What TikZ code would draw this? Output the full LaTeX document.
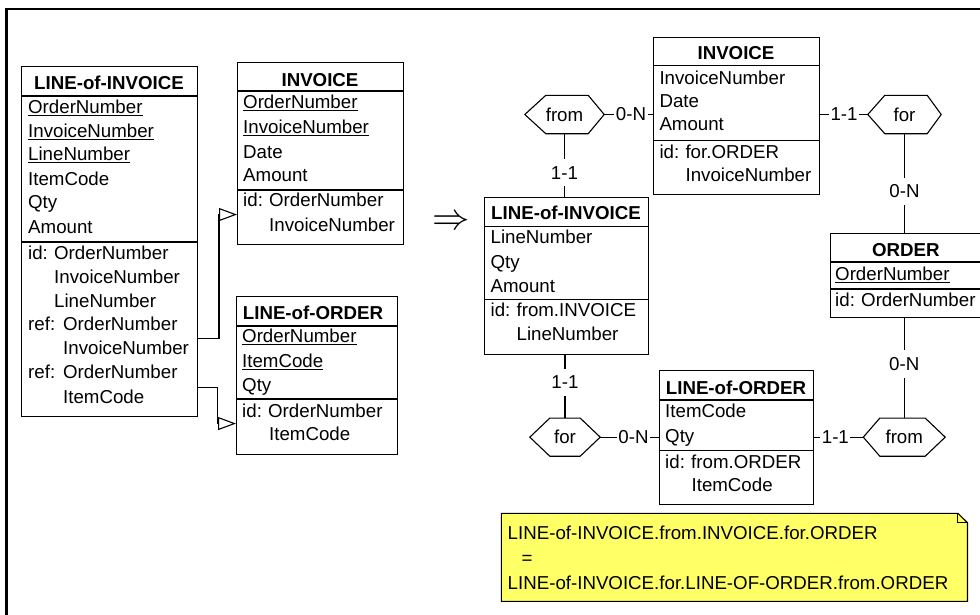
\documentclass[tikz,border=0pt]{standalone}
\usepackage{fontspec}
\setmainfont{Liberation Sans}
\usetikzlibrary{arrows.meta}
\definecolor{noteyellow}{RGB}{255,255,102}
\newcommand\fsz{\fontsize{18.7pt}{22pt}\selectfont}
% underlined key attribute
\newcommand\uln[1]{\setbox0=\hbox{#1}\rlap{\rule[-2.3pt]{\wd0}{1pt}}\box0}
\newcommand\idp{\makebox[26pt][l]{id:}}
\newcommand\refp{\makebox[35pt][l]{ref:}}
% entity box: name, x, y, width, height, offset of 1st and 2nd separator
\newcommand\entbox[7]{%
  \node[ent, minimum width=#4pt, minimum height=#5pt] (#1) at (#2,#3) {};
  \draw[link] ([yshift=-#6pt]#1.north west) -- ([yshift=-#6pt]#1.north east);
  \draw[link] ([yshift=-#7pt]#1.north west) -- ([yshift=-#7pt]#1.north east);
}
% relationship hexagon: name, left, top-left x, top-right x, right, top, bottom, text
\newcommand\hexa[8]{%
  \node[hexn, minimum width={(#5-#2)*1pt}, minimum height={(#7-#6)*1pt}] (#1) at ({(#2+#5)/2},{(#6+#7)/2}) {#8};
  \draw[hexline] (#1.west) -- ([xshift={(#3-#2)*1pt}]#1.north west) -- ([xshift={(#4-#5)*1pt}]#1.north east)
    -- (#1.east) -- ([xshift={(#4-#5)*1pt}]#1.south east) -- ([xshift={(#3-#2)*1pt}]#1.south west) -- cycle;
}
\begin{document}
\begin{tikzpicture}[x=1pt,y=-1pt,
  ent/.style={draw, line width=1.1pt, rectangle, inner sep=0pt, anchor=north west},
  link/.style={line width=1.1pt},
  txt/.style={inner sep=0pt, anchor=base west, font=\fsz},
  ttl/.style={inner sep=0pt, anchor=base, font=\fsz\bfseries},
  hexn/.style={inner sep=0pt, font=\fsz},
  hexline/.style={line width=1.1pt, line join=miter},
  card/.style={fill=white, inner xsep=1.5pt, inner ysep=7pt, font=\fsz},
  refarrow/.style={line width=1.1pt, -{Triangle[open, length=18pt, width=13pt, line width=1.1pt]}}
]
\useasboundingbox (0,0) rectangle (980,614);

% frame
\draw[line width=2.6pt] (6.7,630) -- (6.7,9) -- (995,9);

% ---------------- relational schema ----------------
\entbox{LI}{21}{66}{176}{350}{30}{176}
\node[ttl] (LI-t) at (109,89.5) {LINE-of-INVOICE};
\foreach \px/\py/\tx [count=\i] in {
  28/106.7/\uln{OrderNumber}, 28/130.7/\uln{InvoiceNumber}, 28/154.3/\uln{LineNumber},
  28/179/ItemCode, 28/202.3/Qty, 28/226.7/Amount,
  28/252.7/\idp OrderNumber, 54/276.7/InvoiceNumber, 54/301/LineNumber,
  28/324.3/\refp OrderNumber, 63/348.3/InvoiceNumber,
  28/372.3/\refp OrderNumber, 63/396.7/ItemCode}
  \node[txt] (LI-\i) at (\px,\py+6.5) {\tx};

\entbox{IV1}{237}{62}{166}{182}{29}{128}
\node[ttl] (IV1-t) at (320,86.5) {INVOICE};
\foreach \px/\py/\tx [count=\i] in {
  243/102.3/\uln{OrderNumber}, 243/126.7/\uln{InvoiceNumber}, 243/151.7/Date,
  243/175/Amount, 243/200/\idp OrderNumber, 269/225/InvoiceNumber}
  \node[txt] (IV1-\i) at (\px,\py+6.5) {\tx};

\entbox{LO1}{236}{296}{161}{158}{30}{103}
\node[ttl] (LO1-t) at (313,319.5) {LINE-of-ORDER};
\foreach \px/\py/\tx [count=\i] in {
  242/336/\uln{OrderNumber}, 242/361/\uln{ItemCode}, 242/385/Qty,
  242/411/\idp OrderNumber, 269/434/ItemCode}
  \node[txt] (LO1-\i) at (\px,\py+6.5) {\tx};

% foreign keys
\coordinate (ref1) at ([yshift=-97pt]LI.east);
\coordinate (ref2) at ([yshift=-145.5pt]LI.east);
\coordinate (tip1) at ([yshift=-61pt]IV1.west);
\coordinate (tip2) at ([yshift=-48pt]LO1.west);
\draw[refarrow] (ref1) -| ([xshift=-18pt]tip1) -- (tip1);
\draw[refarrow] (ref2) -| ([xshift=-18.5pt]tip2) -- (tip2);

% transformation
\node[inner sep=0pt, anchor=base] (impl) at (451,229.3)
  {\scalebox{1.8}{\fontsize{20.74pt}{20.74pt}\selectfont$\Rightarrow$}};

% ---------------- conceptual schema ----------------
\entbox{IV2}{653}{36.7}{166.3}{157.3}{29}{103.6}
\node[ttl] (IV2-t) at (736,59.8) {INVOICE};
\foreach \px/\py/\tx [count=\i] in {
  659.3/77.7/InvoiceNumber, 659.3/100.7/Date, 659.3/124.3/Amount,
  659.3/151.7/\idp for.ORDER, 685.4/175/InvoiceNumber}
  \node[txt] (IV2-\i) at (\px,\py+6.5) {\tx};

\entbox{LI2}{484.3}{196.7}{163.2}{157.3}{30}{102.6}
\node[ttl] (LI2-t) at (566,219.8) {LINE-of-INVOICE};
\foreach \px/\py/\tx [count=\i] in {
  490.4/236.7/LineNumber, 490.4/261.7/Qty, 490.4/286/Amount,
  490.4/310/\idp from.INVOICE, 516.4/334.3/LineNumber}
  \node[txt] (LI2-\i) at (\px,\py+6.5) {\tx};

\entbox{OR}{830}{232.7}{152}{84.3}{29.3}{56.3}
\node[ttl] (OR-t) at (905.8,256.3) {ORDER};
\foreach \px/\py/\tx [count=\i] in {
  835/274/\uln{OrderNumber}, 835/300/\idp OrderNumber}
  \node[txt] (OR-\i) at (\px,\py+6.5) {\tx};

\entbox{LO2}{658.6}{370}{154.6}{134}{30}{80.7}
\node[ttl] (LO2-t) at (736,394.2) {LINE-of-ORDER};
\foreach \px/\py/\tx [count=\i] in {
  665/411/ItemCode, 665/436/Qty,
  665/461.7/\idp from.ORDER, 691.4/485/ItemCode}
  \node[txt] (LO2-\i) at (\px,\py+6.5) {\tx};

% relationship types
\hexa{hf1}{525}{546}{588}{604}{95.5}{133.5}{from}
\hexa{hr1}{868}{885}{927}{941}{95.5}{133.5}{for}
\hexa{hr2}{530}{550}{580}{600}{418.3}{456}{for}
\hexa{hf2}{863.5}{880}{925}{945}{418.3}{456}{from}

% roles with cardinalities
\draw[link] (hf1.east) -- node[card, pos=0.55] (c1) {0-N} (hf1.east -| IV2.west);
\draw[link] (hf1.south) -- node[card, pos=0.62] (c2) {1-1} (hf1.south |- LI2.north);
\draw[link] (IV2.east |- hr1.west) -- node[card, pos=0.5] (c3) {1-1} (hr1.west);
\draw[link] (hr1.south) -- node[card, pos=0.58] (c4) {0-N} (hr1.south |- OR.north);
\draw[link] (hr2.north |- LI2.south) -- node[card, pos=0.43] (c5) {1-1} (hr2.north);
\draw[link] (hr2.east) -- node[card, pos=0.57] (c6) {0-N} (hr2.east -| LO2.west);
\draw[link] (LO2.east |- hf2.west) -- node[card, pos=0.43] (c7) {1-1} (hf2.west);
\draw[link] (hf2.north |- OR.south) -- node[card, pos=0.46] (c8) {0-N} (hf2.north);

% constraint note
\node[inner sep=0pt, minimum width=465.7pt, minimum height=87.7pt, anchor=north west] (note) at (501.4,513.3) {};
\draw[line width=1.1pt, fill=noteyellow, line join=miter] (note.south west) -- (note.north west)
  -- ([xshift=-9.6pt]note.north east) -- ([yshift=-9.4pt]note.north east) -- (note.south east) -- cycle;
\draw[line width=1.1pt] ([xshift=-9.6pt]note.north east) -- ([xshift=-9.6pt,yshift=-9.4pt]note.north east)
  -- ([yshift=-9.4pt]note.north east);
\node[txt] (n1) at (507.5,539.8) {LINE-of-INVOICE.from.INVOICE.for.ORDER};
\node[txt] (n2) at (521.5,564.3) {=};
\node[txt] (n3) at (507.5,589.2) {LINE-of-INVOICE.for.LINE-OF-ORDER.from.ORDER};
\end{tikzpicture}
\end{document}
